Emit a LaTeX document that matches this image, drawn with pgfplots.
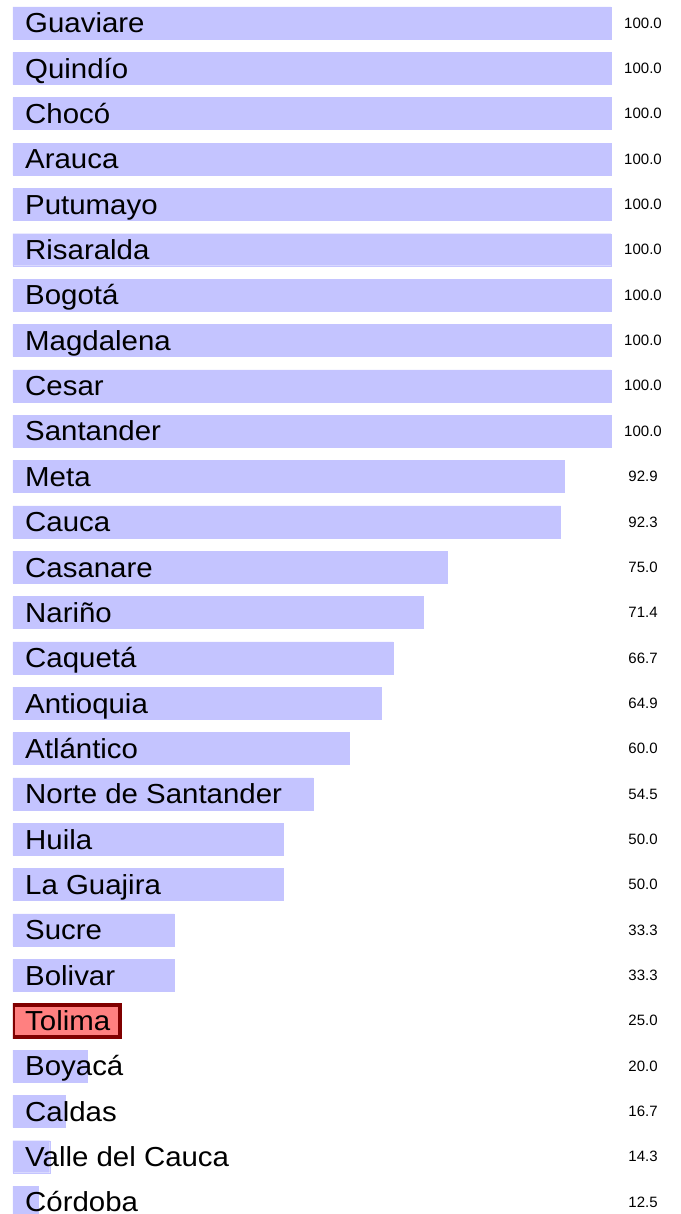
\documentclass[border=0pt]{standalone}
\usepackage{pgfplots}
\pgfplotsset{compat=1.18}
\usepackage{fontspec}
\setmainfont{Liberation Sans}
\newfontfamily\catfont[FakeStretch=1.07]{Liberation Sans}
\definecolor{barblue}{RGB}{196,196,255}
\definecolor{hlfill}{RGB}{255,128,128}
\definecolor{hledge}{RGB}{128,0,0}
\begin{document}
\begin{tikzpicture}
\useasboundingbox (-13pt,0pt) rectangle (667pt,1214pt);
\pgfplotsset{rowaxis/.style={
  at={(0pt,0pt)}, anchor=south west, scale only axis,
  width=667pt, height=1214pt,
  xmin=8.689, xmax=110.54, ymin=-0.507, ymax=26.263, y dir=reverse,
  axis line style={draw=none}, xtick=\empty, ytick={0,...,26},
  major tick length=0pt, tick style={draw=none}, axis on top,
}}
\begin{axis}[rowaxis, xbar, bar width=32pt, bar shift=0pt,
  yticklabels={Guaviare,Quindío,Chocó,Arauca,Putumayo,Risaralda,Bogotá,Magdalena,Cesar,Santander,Meta,Cauca,Casanare,Nariño,Caquetá,Antioquia,Atlántico,Norte de Santander,Huila,La Guajira,Sucre,Bolivar,Tolima,Boyacá,Caldas,Valle del Cauca,Córdoba},
  yticklabel style={anchor=base west, inner sep=0pt, xshift=12pt, yshift=-9.85pt, font=\catfont\fontsize{27.5}{30}\selectfont},
]
\addplot[fill=barblue, draw=barblue] coordinates {
(100.0,0) (100.0,1) (100.0,2) (100.0,3) (100.0,4) (100.0,5) (100.0,6) (100.0,7) (100.0,8) (100.0,9)
(92.9,10) (92.3,11) (75.0,12) (71.4,13) (66.7,14) (64.9,15) (60.0,16) (54.5,17) (50.0,18) (50.0,19)
(33.3,20) (33.3,21) (20.0,23) (16.7,24) (14.3,25) (12.5,26)};
\addplot[fill=hlfill, draw=hledge, line width=4pt] coordinates {(25.0,22)};
\end{axis}
\begin{axis}[rowaxis, yticklabel pos=right,
  yticklabels={100.0,100.0,100.0,100.0,100.0,100.0,100.0,100.0,100.0,100.0,92.9,92.3,75.0,71.4,66.7,64.9,60.0,54.5,50.0,50.0,33.3,33.3,25.0,20.0,16.7,14.3,12.5},
  yticklabel style={anchor=center, inner sep=0pt, xshift=-37pt, font=\fontsize{15}{17}\selectfont},
]
\addplot[draw=none] coordinates {(50,0)};
\end{axis}
\end{tikzpicture}
\end{document}
